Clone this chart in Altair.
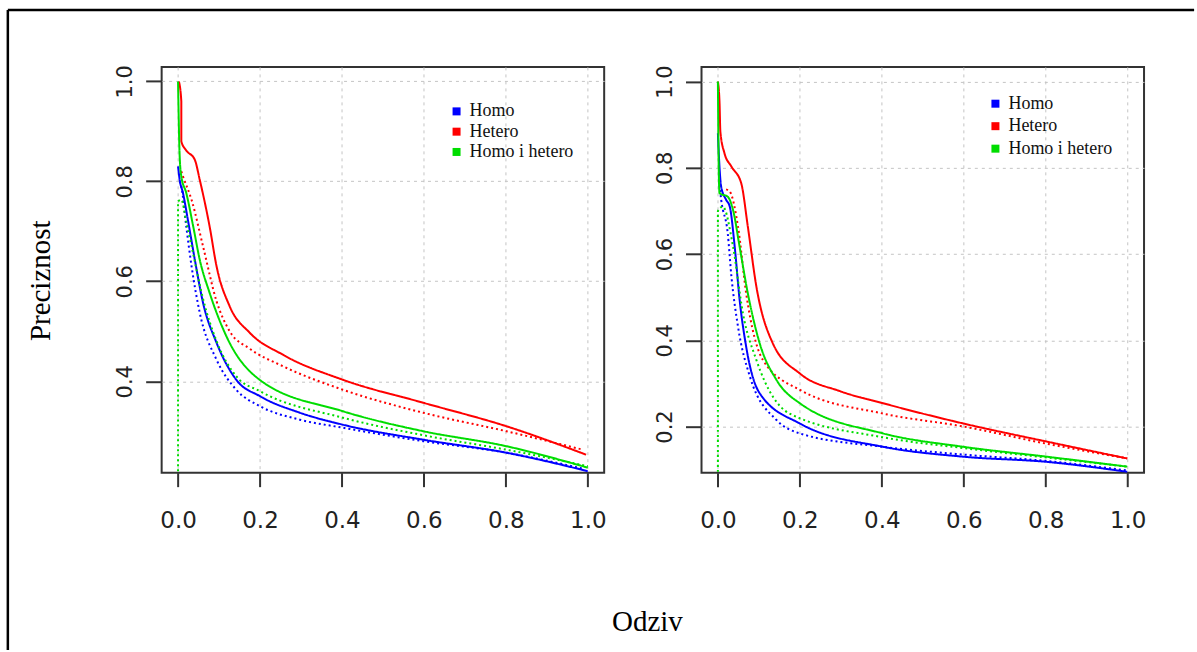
import altair as alt
import pandas as pd

# ---------------- data ----------------
SERIES = ["Homo", "Hetero", "Homo i hetero"]
COLORS = ["#0000ff", "#ff0000", "#00dd00"]
STYLES = ["solid", "dotted"]

X_TICKS = [0.0, 0.2, 0.4, 0.6, 0.8, 1.0]
Y_TICKS_LEFT = [0.4, 0.6, 0.8, 1.0]
Y_TICKS_RIGHT = [0.2, 0.4, 0.6, 0.8, 1.0]

# left panel
L_BLUE_SOLID_X = [0.0, 0.004, 0.012, 0.024, 0.041, 0.061, 0.094, 0.142, 0.2, 0.297, 0.402, 0.598, 0.801, 1.0]
L_BLUE_SOLID_Y = [0.83, 0.803, 0.777, 0.723, 0.643, 0.557, 0.477, 0.403, 0.37, 0.337, 0.313, 0.283, 0.257, 0.22]
L_BLUE_DOT_X = [0.004, 0.008, 0.02, 0.033, 0.053, 0.094, 0.142, 0.2, 0.297, 0.402, 0.598, 0.801, 0.988]
L_BLUE_DOT_Y = [0.80, 0.79, 0.71, 0.63, 0.537, 0.443, 0.383, 0.35, 0.323, 0.307, 0.28, 0.257, 0.225]
L_RED_SOLID_X = [0.002, 0.008, 0.008, 0.019, 0.041, 0.053, 0.077, 0.094, 0.126, 0.175, 0.256, 0.402, 0.598, 0.801, 0.996]
L_RED_SOLID_Y = [1.0, 0.96, 0.88, 0.863, 0.843, 0.803, 0.71, 0.63, 0.55, 0.497, 0.453, 0.403, 0.357, 0.31, 0.253]
L_RED_DOT_X = [0.008, 0.012, 0.033, 0.061, 0.094, 0.126, 0.175, 0.256, 0.402, 0.598, 0.801, 0.988]
L_RED_DOT_Y = [0.82, 0.81, 0.763, 0.67, 0.56, 0.50, 0.465, 0.43, 0.383, 0.337, 0.30, 0.263]
L_GREEN_SOLID_X = [0.0, 0.004, 0.008, 0.02, 0.037, 0.053, 0.077, 0.118, 0.199, 0.402, 0.598, 0.801, 1.0]
L_GREEN_SOLID_Y = [1.0, 0.85, 0.81, 0.777, 0.71, 0.643, 0.577, 0.49, 0.403, 0.34, 0.30, 0.27, 0.227]
L_GREEN_DOT_X = [0.0, 0.0, 0.008, 0.02, 0.037, 0.061, 0.094, 0.142, 0.2, 0.402, 0.598, 0.801, 1.0]
L_GREEN_DOT_Y = [0.22, 0.76, 0.763, 0.72, 0.655, 0.565, 0.48, 0.41, 0.38, 0.327, 0.292, 0.263, 0.23]

# right panel
R_BLUE_SOLID_X = [0.0, 0.004, 0.008, 0.02, 0.029, 0.041, 0.053, 0.069, 0.102, 0.2, 0.403, 0.599, 0.803, 0.999]
R_BLUE_SOLID_Y = [0.88, 0.80, 0.756, 0.726, 0.71, 0.617, 0.494, 0.385, 0.277, 0.207, 0.153, 0.13, 0.118, 0.095]
R_BLUE_DOT_X = [0.004, 0.008, 0.024, 0.033, 0.049, 0.078, 0.143, 0.2, 0.403, 0.599, 0.803, 0.999]
R_BLUE_DOT_Y = [0.76, 0.726, 0.648, 0.548, 0.432, 0.316, 0.215, 0.184, 0.153, 0.135, 0.12, 0.098]
R_RED_SOLID_X = [0.0, 0.004, 0.006, 0.016, 0.033, 0.057, 0.073, 0.094, 0.134, 0.2, 0.298, 0.403, 0.599, 0.803, 0.999]
R_RED_SOLID_Y = [1.0, 0.95, 0.884, 0.834, 0.803, 0.764, 0.664, 0.524, 0.393, 0.323, 0.282, 0.254, 0.207, 0.165, 0.126]
R_RED_DOT_X = [0.02, 0.029, 0.049, 0.069, 0.11, 0.2, 0.403, 0.599, 0.803, 0.999]
R_RED_DOT_Y = [0.75, 0.745, 0.664, 0.509, 0.354, 0.285, 0.23, 0.2, 0.16, 0.126]
R_GREEN_SOLID_X = [0.0, 0.002, 0.004, 0.024, 0.037, 0.053, 0.073, 0.102, 0.143, 0.2, 0.403, 0.599, 0.803, 0.999]
R_GREEN_SOLID_Y = [1.0, 0.80, 0.741, 0.733, 0.702, 0.617, 0.509, 0.393, 0.308, 0.254, 0.184, 0.153, 0.13, 0.107]
R_GREEN_DOT_X = [0.0, 0.0, 0.012, 0.037, 0.061, 0.094, 0.175, 0.403, 0.599, 0.803, 0.999]
R_GREEN_DOT_Y = [0.095, 0.70, 0.71, 0.617, 0.463, 0.354, 0.23, 0.175, 0.15, 0.128, 0.107]

LEFT_CURVES = [
    ("Homo", "solid", L_BLUE_SOLID_X, L_BLUE_SOLID_Y),
    ("Homo", "dotted", L_BLUE_DOT_X, L_BLUE_DOT_Y),
    ("Hetero", "solid", L_RED_SOLID_X, L_RED_SOLID_Y),
    ("Hetero", "dotted", L_RED_DOT_X, L_RED_DOT_Y),
    ("Homo i hetero", "solid", L_GREEN_SOLID_X, L_GREEN_SOLID_Y),
    ("Homo i hetero", "dotted", L_GREEN_DOT_X, L_GREEN_DOT_Y),
]
RIGHT_CURVES = [
    ("Homo", "solid", R_BLUE_SOLID_X, R_BLUE_SOLID_Y),
    ("Homo", "dotted", R_BLUE_DOT_X, R_BLUE_DOT_Y),
    ("Hetero", "solid", R_RED_SOLID_X, R_RED_SOLID_Y),
    ("Hetero", "dotted", R_RED_DOT_X, R_RED_DOT_Y),
    ("Homo i hetero", "solid", R_GREEN_SOLID_X, R_GREEN_SOLID_Y),
    ("Homo i hetero", "dotted", R_GREEN_DOT_X, R_GREEN_DOT_Y),
]


def to_frame(curves):
    rows = []
    for series, style, xs, ys in curves:
        for i, (xv, yv) in enumerate(zip(xs, ys)):
            rows.append({"series": series, "style": style, "x": xv, "y": yv, "idx": i})
    return pd.DataFrame(rows)


# ---------------- layout ----------------
PAGE_W, PAGE_H = 1197, 652
BOX_LEFT_L = 161.9      # left panel box, page coords
BOX_TOP = 67
PANEL_W = 442.8
PANEL_H = 406
GAP = 97.2
X_DOMAIN = [-0.04, 1.04]
Y_DOMAIN_LEFT = [0.217, 1.029]
Y_DOMAIN_RIGHT = [0.093, 1.034]

TICK_FONT = "DejaVu Sans"
SERIF = "Liberation Serif"
INK = "#222222"
GRID = "#c4c4c4"


def make_panel(curves, ydom, yticks, legend_x, legend_y, row_pad):
    xs = alt.Scale(domain=X_DOMAIN, nice=False, zero=False)
    ys = alt.Scale(domain=ydom, nice=False, zero=False)
    x_axis = alt.Axis(values=X_TICKS, format=".1f", tickSize=14, tickWidth=2, tickColor="#333",
                      labelFont=TICK_FONT, labelFontSize=23, labelColor=INK, labelPadding=23,
                      grid=True, gridColor=GRID, gridDash=[3, 4], gridWidth=1,
                      domain=False, title=None, labelFlush=False, labelOverlap=False)
    y_axis = alt.Axis(values=yticks, format=".1f", tickSize=16, tickWidth=2, tickColor="#333",
                      labelFont=TICK_FONT, labelFontSize=21, labelColor=INK, labelPadding=10,
                      labelAngle=270, labelAlign="center", labelBaseline="bottom",
                      grid=True, gridColor=GRID, gridDash=[3, 4], gridWidth=1,
                      domain=False, title=None, labelFlush=False, labelOverlap=False)
    lines = alt.Chart(to_frame(curves)).mark_line(strokeWidth=2, interpolate="monotone", clip=True).encode(
        x=alt.X("x:Q", scale=xs, axis=x_axis),
        y=alt.Y("y:Q", scale=ys, axis=y_axis),
        color=alt.Color("series:N", scale=alt.Scale(domain=SERIES, range=COLORS),
                        legend=alt.Legend(orient="none", legendX=legend_x, legendY=legend_y,
                                          title=None, symbolType="square", symbolSize=16,
                                          symbolStrokeWidth=4, labelFont=SERIF,
                                          labelFontSize=18, labelColor="#111",
                                          rowPadding=row_pad, labelOffset=4, padding=0)),
        strokeDash=alt.StrokeDash("style:N",
                                  scale=alt.Scale(domain=STYLES, range=[[1, 0], [2, 3]]),
                                  legend=None),
        order=alt.Order("idx:Q"),
    )
    return lines


left_lines = make_panel(LEFT_CURVES, Y_DOMAIN_LEFT, Y_TICKS_LEFT,
                        448 - BOX_LEFT_L, 102.5 - BOX_TOP, 0.3)
right_box_left = BOX_LEFT_L + PANEL_W + GAP
right_lines = make_panel(RIGHT_CURVES, Y_DOMAIN_RIGHT, Y_TICKS_RIGHT,
                         987 - right_box_left, 94.8 - BOX_TOP, 2.5)

# page frame (top and left edges) and the two shared axis titles, drawn in the left panel
one = pd.DataFrame({"k": [0]})
border_top = alt.Chart(one).mark_rule(color="black", strokeWidth=2.5).encode(
    x=alt.value(8 - BOX_LEFT_L), x2=alt.value(PAGE_W - 2 - BOX_LEFT_L), y=alt.value(10 - BOX_TOP))
border_left = alt.Chart(one).mark_rule(color="black", strokeWidth=2.5).encode(
    x=alt.value(8 - BOX_LEFT_L), y=alt.value(10 - BOX_TOP), y2=alt.value(PAGE_H - 1.5 - BOX_TOP))
ytitle = alt.Chart(pd.DataFrame({"t": ["Preciznost"]})).mark_text(
    font=SERIF, fontSize=29, angle=270, align="center", baseline="middle", color="#000").encode(
    text="t:N", x=alt.value(41 - BOX_LEFT_L), y=alt.value(281 - BOX_TOP))
xtitle = alt.Chart(pd.DataFrame({"t": ["Odziv"]})).mark_text(
    font=SERIF, fontSize=29, align="center", baseline="middle", color="#000").encode(
    text="t:N", x=alt.value(648 - BOX_LEFT_L), y=alt.value(622 - BOX_TOP))

left = alt.layer(left_lines, border_top, border_left, ytitle, xtitle).properties(
    width=PANEL_W, height=PANEL_H)
right = alt.layer(right_lines).properties(width=PANEL_W, height=PANEL_H)

chart = alt.hconcat(left, right, spacing=GAP, bounds="flush").resolve_scale(
    x="independent", y="independent", color="independent", strokeDash="independent"
).properties(
    padding={"left": 4.75, "top": 6.75, "right": 0, "bottom": 0},
    background="white",
).configure_view(stroke="#333", strokeWidth=2)

chart.save("out.html", embed_options={"renderer": "svg", "actions": False})
